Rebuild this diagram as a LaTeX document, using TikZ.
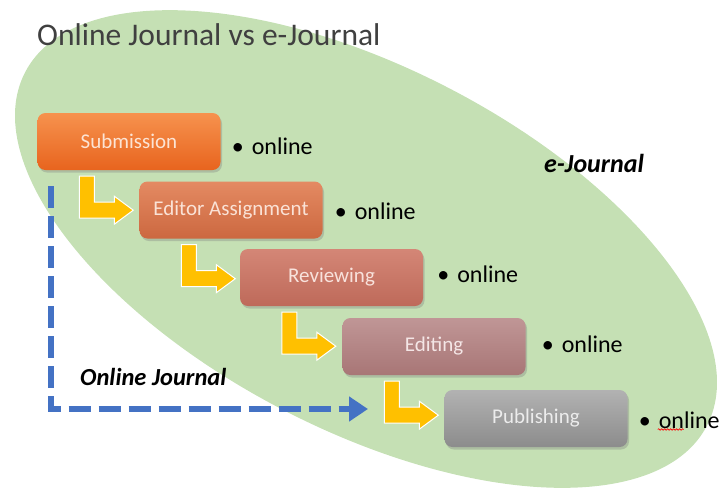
\documentclass[tikz,border=0pt]{standalone}
\usepackage{fontspec}
\setmainfont{Carlito}
\usetikzlibrary{shadows,calc,arrows.meta,decorations.pathmorphing}
\definecolor{ellgreen}{HTML}{C5E0B4}
\definecolor{ybar}{HTML}{FFC000}
\definecolor{dblue}{HTML}{4472C4}
\definecolor{titlegray}{HTML}{404040}
\tikzset{
  stepbox/.style={rounded corners=8pt, minimum width=183pt, minimum height=57pt,
    inner sep=0pt, font=\fontsize{21}{25}\selectfont,
    drop shadow={shadow xshift=1.5pt, shadow yshift=-2.5pt, opacity=0.35}},
  onlinelbl/.style={anchor=west, inner sep=0pt, font=\fontsize{24}{28}\selectfont, text=black},
  yarrow/.style={fill=ybar, draw=white, line width=1pt, line join=miter},
  bolditlbl/.style={inner sep=0pt, font=\bfseries\itshape, text=black}
}
\begin{document}
\begin{tikzpicture}[x=1pt,y=-1pt]
\useasboundingbox (0,0) rectangle (720,496);
% big ellipse
\begin{scope}[shift={(366,249)}, rotate=-27.4]
  \fill[ellgreen] (0,0) ellipse [x radius=384, y radius=181];
\end{scope}
% title
\node[anchor=west, inner sep=0pt, text=titlegray, font=\fontsize{31.5}{36}\selectfont] (title) at (37,35) {Online Journal vs e-Journal};
% boxes
\node[stepbox, top color={rgb,255:red,246;green,146;blue,78}, bottom color={rgb,255:red,232;green,100;blue,30}, text={rgb,255:red,252;green,228;blue,212}] (sub) at (129,141.5) {Submission};
\node[stepbox, top color={rgb,255:red,228;green,138;blue,98}, bottom color={rgb,255:red,204;green,104;blue,64}, text={rgb,255:red,250;green,226;blue,214}] (eda) at (231,210) {Editor Assignment};
\node[stepbox, top color={rgb,255:red,212;green,134;blue,118}, bottom color={rgb,255:red,190;green,106;blue,90}, text={rgb,255:red,248;green,226;blue,220}] (rev) at (331.5,277.5) {Reviewing};
\node[stepbox, top color={rgb,255:red,192;green,150;blue,150}, bottom color={rgb,255:red,168;green,118;blue,118}, text={rgb,255:red,244;green,230;blue,230}] (edi) at (434,346.5) {Editing};
\node[stepbox, top color={rgb,255:red,178;green,178;blue,178}, bottom color={rgb,255:red,140;green,140;blue,140}, text={rgb,255:red,236;green,236;blue,236}] (pub) at (536,418.5) {Publishing};
% online labels
\node[onlinelbl] (o1) at ([xshift=11pt,yshift=-5pt]sub.east) {\textbullet\hspace{8pt}online};
\node[onlinelbl] (o2) at ([xshift=12pt,yshift=-1pt]eda.east) {\textbullet\hspace{8pt}online};
\node[onlinelbl] (o3) at ([xshift=14pt,yshift=3pt]rev.east) {\textbullet\hspace{8pt}online};
\node[onlinelbl] (o4) at ([xshift=16pt,yshift=2pt]edi.east) {\textbullet\hspace{8pt}online};
\node[onlinelbl] (o5) at ([xshift=11pt,yshift=-2pt]pub.east) {\textbullet\hspace{8pt}online};
\draw[red, line width=0.6pt, decorate, decoration={snake, amplitude=0.8pt, segment length=3pt}]
  ([xshift=19pt,yshift=-9pt]o5.west) -- ([xshift=45pt,yshift=-9pt]o5.west);
% yellow L arrows
\foreach \a/\b in {sub/eda, eda/rev, rev/edi, edi/pub}{
  \draw[yarrow, shift={($(\a.south west)+(42,6)$)}]
    (0,0) -- (15,0) -- (15,26) -- (35,26) -- (35,20) -- (54,34) -- (35,48) -- (35,42) -- (0,42) -- cycle;
}
% blue dashed online-journal path
\coordinate (ojstart) at ($(sub.south west)+(14,16)$);
\coordinate (ojend) at (368,409);
\draw[dblue, line width=6pt, dash pattern=on 22pt off 8pt, -{Triangle[length=19pt, width=24pt]}]
  (ojstart) |- (ojend);
% labels
\node[bolditlbl, anchor=west, font=\fontsize{24.5}{28}\selectfont\bfseries\itshape] (ojl) at (80,377) {Online Journal};
\node[bolditlbl, anchor=west, font=\fontsize{26}{30}\selectfont\bfseries\itshape] (ejl) at (544,163) {e-Journal};
\end{tikzpicture}
\end{document}
